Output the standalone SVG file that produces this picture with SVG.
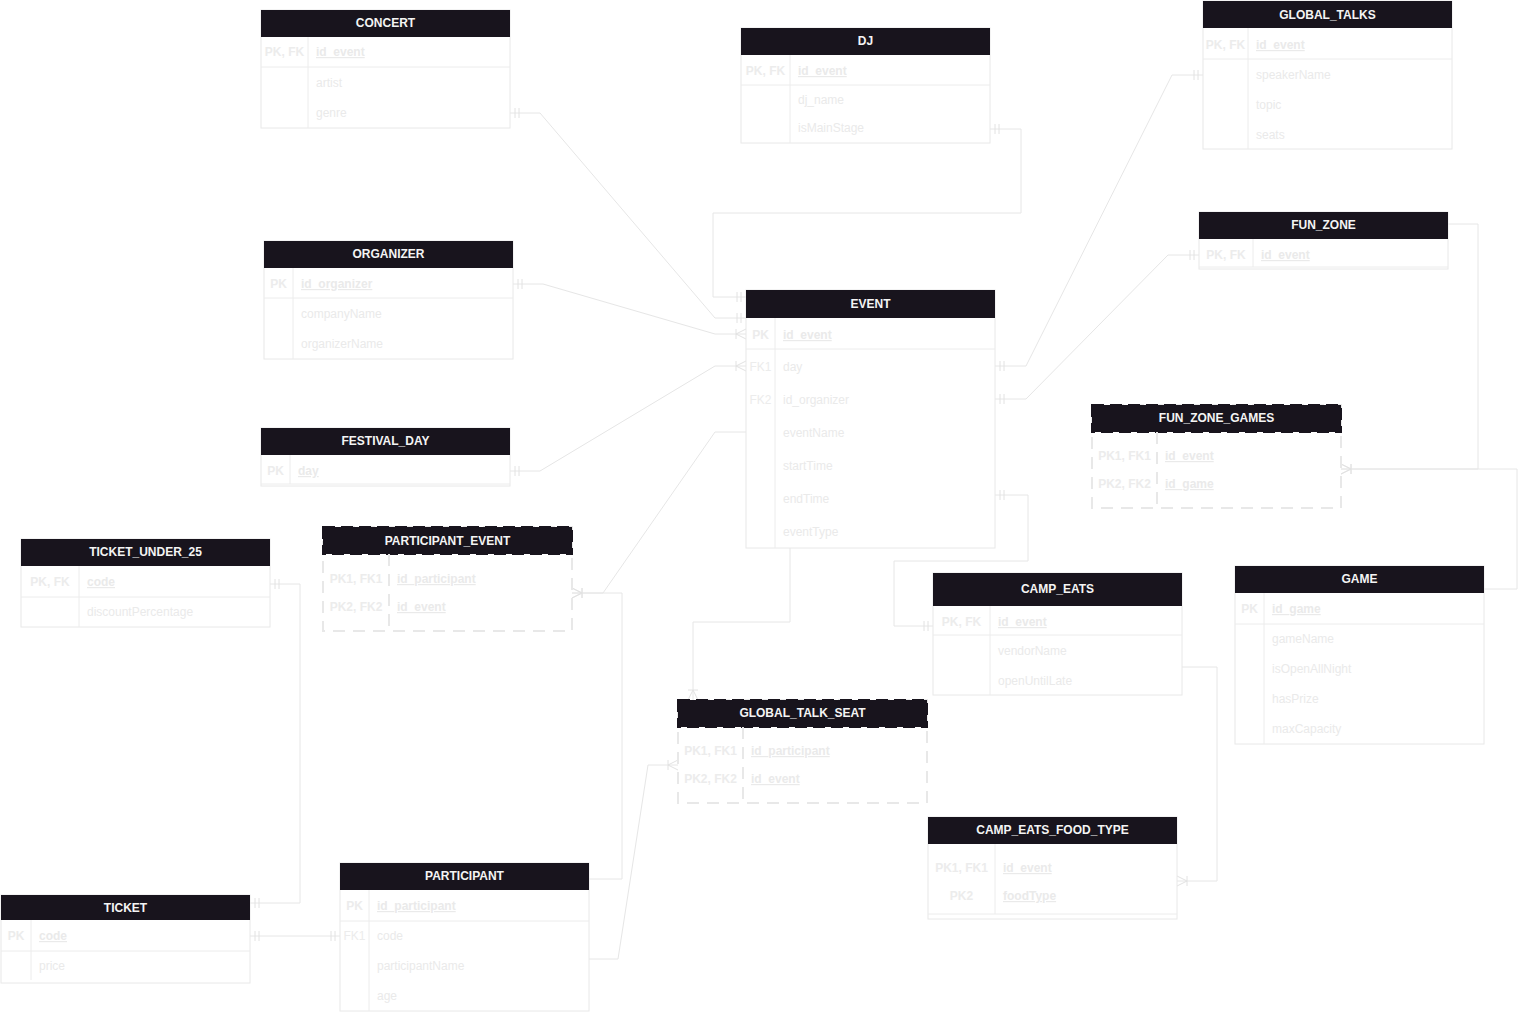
<svg xmlns="http://www.w3.org/2000/svg" width="1526" height="1012" viewBox="0 0 1526 1012">
<style>
  .hd{fill:#18141d}
  .hdd{fill:#18141d;stroke:#18141d;stroke-width:2;stroke-dasharray:12 6}
  .ht{font:bold 12px "Liberation Sans",Arial,sans-serif;fill:#f4f4f4;text-anchor:middle}
  .bx{fill:#fff;stroke:#e8e8e8;stroke-width:1}
  .bxd{fill:#fff;stroke:#e8e8e8;stroke-width:2;stroke-dasharray:12 8}
  .ln{stroke:#ececec;stroke-width:1;fill:none}
  .lnd{stroke:#e8e8e8;stroke-width:2;stroke-dasharray:12 8;fill:none}
  .k{font:bold 12px "Liberation Sans",Arial,sans-serif;fill:#ececec;text-anchor:middle}
  .kr{font:12px "Liberation Sans",Arial,sans-serif;fill:#ececec;text-anchor:middle}
  .f{font:12px "Liberation Sans",Arial,sans-serif;fill:#eaeaea}
  .pk{font-weight:bold;text-decoration:underline}
  .edge{fill:none;stroke:#e6e6e6;stroke-width:1}
</style>
<defs>
  <!-- mandatory one: two bars -->
  <marker id="one" markerUnits="userSpaceOnUse" viewBox="-14 -7 14 14" markerWidth="14" markerHeight="14" refX="0" refY="0" orient="auto-start-reverse" overflow="visible">
    <path d="M-5,-5V5M-9,-5V5" fill="none" stroke="#e2e2e2" stroke-width="1"/>
  </marker>
  <!-- one to many: bar plus crow's foot -->
  <marker id="many" markerUnits="userSpaceOnUse" viewBox="-14 -7 14 14" markerWidth="14" markerHeight="14" refX="0" refY="0" orient="auto-start-reverse" overflow="visible">
    <path d="M0,-5L-10,0L0,5M-10,-5V5" fill="none" stroke="#e2e2e2" stroke-width="1"/>
  </marker>
</defs>
<rect width="1526" height="1012" fill="#fff"/>

<g id="connectors">
  <path class="edge" d="M510,113H540L715,318H746" marker-start="url(#one)" marker-end="url(#one)"/>
  <path class="edge" d="M990,129H1021V213H713V297H746" marker-start="url(#one)" marker-end="url(#one)"/>
  <path class="edge" d="M513,284H543L715,334H746" marker-start="url(#one)" marker-end="url(#many)"/>
  <path class="edge" d="M510,471H540L715,366H746" marker-start="url(#one)" marker-end="url(#many)"/>
  <path class="edge" d="M995,366H1026L1172,75H1203" marker-start="url(#one)" marker-end="url(#one)"/>
  <path class="edge" d="M995,399H1026L1168,255H1199" marker-start="url(#one)" marker-end="url(#one)"/>
  <path class="edge" d="M995,495H1028V561H894V626H933" marker-start="url(#one)" marker-end="url(#one)"/>
  <path class="edge" d="M1448,224H1478V469H1341" marker-end="url(#many)"/>
  <path class="edge" d="M1484,589H1517V469H1341" marker-end="url(#many)"/>
  <path class="edge" d="M790,548V622H693V700" marker-end="url(#many)"/>
  <path class="edge" d="M746,432H715L603,593H572" marker-end="url(#many)"/>
  <path class="edge" d="M589,879H622V593H572" marker-end="url(#many)"/>
  <path class="edge" d="M589,959H618L648,765H678" marker-end="url(#many)"/>
  <path class="edge" d="M1182,667H1217V881H1177" marker-end="url(#many)"/>
  <path class="edge" d="M270,584H300V903H250" marker-start="url(#one)" marker-end="url(#one)"/>
  <path class="edge" d="M250,936H340" marker-start="url(#one)" marker-end="url(#one)"/>
</g>

<g id="CONCERT">
  <rect class="bx" x="261" y="10" width="249" height="118"/>
  <rect class="hd" x="261" y="10" width="249" height="27"/>
  <text class="ht" x="385.5" y="27">CONCERT</text>
  <path class="ln" d="M308,37V128M261,67H510"/>
  <text class="k" x="284.5" y="56">PK, FK</text>
  <text class="f pk" x="316" y="56">id_event</text>
  <text class="f" x="316" y="87">artist</text>
  <text class="f" x="316" y="117">genre</text>
</g>

<g id="DJ">
  <rect class="bx" x="741" y="28" width="249" height="115"/>
  <rect class="hd" x="741" y="28" width="249" height="27"/>
  <text class="ht" x="865.5" y="45">DJ</text>
  <path class="ln" d="M790,55V143M741,85H990"/>
  <text class="k" x="765.5" y="75">PK, FK</text>
  <text class="f pk" x="798" y="75">id_event</text>
  <text class="f" x="798" y="104">dj_name</text>
  <text class="f" x="798" y="132">isMainStage</text>
</g>

<g id="GLOBAL_TALKS">
  <rect class="bx" x="1203" y="1" width="249" height="148"/>
  <rect class="hd" x="1203" y="1" width="249" height="27"/>
  <text class="ht" x="1327.5" y="19">GLOBAL_TALKS</text>
  <path class="ln" d="M1248,28V149M1203,59H1452"/>
  <text class="k" x="1225.5" y="49">PK, FK</text>
  <text class="f pk" x="1256" y="49">id_event</text>
  <text class="f" x="1256" y="79">speakerName</text>
  <text class="f" x="1256" y="109">topic</text>
  <text class="f" x="1256" y="139">seats</text>
</g>

<g id="FUN_ZONE">
  <rect class="bx" x="1199" y="212" width="249" height="57"/>
  <rect class="hd" x="1199" y="212" width="249" height="27"/>
  <text class="ht" x="1323.5" y="229">FUN_ZONE</text>
  <path class="ln" d="M1253,239V267M1199,267H1448"/>
  <text class="k" x="1226" y="259">PK, FK</text>
  <text class="f pk" x="1261" y="259">id_event</text>
</g>

<g id="ORGANIZER">
  <rect class="bx" x="264" y="241" width="249" height="118"/>
  <rect class="hd" x="264" y="241" width="249" height="27"/>
  <text class="ht" x="388.5" y="258">ORGANIZER</text>
  <path class="ln" d="M293,268V359M264,298H513"/>
  <text class="k" x="278.5" y="288">PK</text>
  <text class="f pk" x="301" y="288">id_organizer</text>
  <text class="f" x="301" y="318">companyName</text>
  <text class="f" x="301" y="348">organizerName</text>
</g>

<g id="FESTIVAL_DAY">
  <rect class="bx" x="261" y="428" width="249" height="58"/>
  <rect class="hd" x="261" y="428" width="249" height="27"/>
  <text class="ht" x="385.5" y="445">FESTIVAL_DAY</text>
  <path class="ln" d="M290,455V484M261,484H510"/>
  <text class="k" x="275.5" y="475">PK</text>
  <text class="f pk" x="298" y="475">day</text>
</g>

<g id="EVENT">
  <rect class="bx" x="746" y="290" width="249" height="258"/>
  <rect class="hd" x="746" y="290" width="249" height="28"/>
  <text class="ht" x="870.5" y="308">EVENT</text>
  <path class="ln" d="M775,318V548M746,349H995"/>
  <text class="k" x="760.5" y="339">PK</text>
  <text class="f pk" x="783" y="339">id_event</text>
  <text class="kr" x="760.5" y="371">FK1</text>
  <text class="f" x="783" y="371">day</text>
  <text class="kr" x="760.5" y="404">FK2</text>
  <text class="f" x="783" y="404">id_organizer</text>
  <text class="f" x="783" y="437">eventName</text>
  <text class="f" x="783" y="470">startTime</text>
  <text class="f" x="783" y="503">endTime</text>
  <text class="f" x="783" y="536">eventType</text>
</g>

<g id="FUN_ZONE_GAMES">
  <rect class="bxd" x="1092" y="405" width="249" height="103"/>
  <rect class="hdd" x="1092" y="405" width="249" height="27"/>
  <text class="ht" x="1216.5" y="422">FUN_ZONE_GAMES</text>
  <path class="lnd" d="M1157,432V508"/>
  <text class="k" x="1124.5" y="460">PK1, FK1</text>
  <text class="f pk" x="1165" y="460">id_event</text>
  <text class="k" x="1124.5" y="488">PK2, FK2</text>
  <text class="f pk" x="1165" y="488">id_game</text>
</g>

<g id="TICKET_UNDER_25">
  <rect class="bx" x="21" y="539" width="249" height="88"/>
  <rect class="hd" x="21" y="539" width="249" height="27"/>
  <text class="ht" x="145.5" y="556">TICKET_UNDER_25</text>
  <path class="ln" d="M79,566V627M21,597H270"/>
  <text class="k" x="50" y="586">PK, FK</text>
  <text class="f pk" x="87" y="586">code</text>
  <text class="f" x="87" y="616">discountPercentage</text>
</g>

<g id="PARTICIPANT_EVENT">
  <rect class="bxd" x="323" y="527" width="249" height="104"/>
  <rect class="hdd" x="323" y="527" width="249" height="27"/>
  <text class="ht" x="447.5" y="545">PARTICIPANT_EVENT</text>
  <path class="lnd" d="M389,554V631"/>
  <text class="k" x="356" y="583">PK1, FK1</text>
  <text class="f pk" x="397" y="583">id_participant</text>
  <text class="k" x="356" y="611">PK2, FK2</text>
  <text class="f pk" x="397" y="611">id_event</text>
</g>

<g id="GAME">
  <rect class="bx" x="1235" y="566" width="249" height="178"/>
  <rect class="hd" x="1235" y="566" width="249" height="27"/>
  <text class="ht" x="1359.5" y="583">GAME</text>
  <path class="ln" d="M1264,593V744M1235,624H1484"/>
  <text class="k" x="1249.5" y="613">PK</text>
  <text class="f pk" x="1272" y="613">id_game</text>
  <text class="f" x="1272" y="643">gameName</text>
  <text class="f" x="1272" y="673">isOpenAllNight</text>
  <text class="f" x="1272" y="703">hasPrize</text>
  <text class="f" x="1272" y="733">maxCapacity</text>
</g>

<g id="CAMP_EATS">
  <rect class="bx" x="933" y="573" width="249" height="122"/>
  <rect class="hd" x="933" y="573" width="249" height="33"/>
  <text class="ht" x="1057.5" y="593">CAMP_EATS</text>
  <path class="ln" d="M990,606V695M933,635H1182"/>
  <text class="k" x="961.5" y="626">PK, FK</text>
  <text class="f pk" x="998" y="626">id_event</text>
  <text class="f" x="998" y="655">vendorName</text>
  <text class="f" x="998" y="685">openUntilLate</text>
</g>

<g id="GLOBAL_TALK_SEAT">
  <rect class="bxd" x="678" y="700" width="249" height="103"/>
  <rect class="hdd" x="678" y="700" width="249" height="27"/>
  <text class="ht" x="802.5" y="717">GLOBAL_TALK_SEAT</text>
  <path class="lnd" d="M743,727V803"/>
  <text class="k" x="710.5" y="755">PK1, FK1</text>
  <text class="f pk" x="751" y="755">id_participant</text>
  <text class="k" x="710.5" y="783">PK2, FK2</text>
  <text class="f pk" x="751" y="783">id_event</text>
</g>

<g id="CAMP_EATS_FOOD_TYPE">
  <rect class="bx" x="928" y="817" width="249" height="102"/>
  <rect class="hd" x="928" y="817" width="249" height="27"/>
  <text class="ht" x="1052.5" y="834">CAMP_EATS_FOOD_TYPE</text>
  <path class="ln" d="M995,844V914M928,914H1177"/>
  <text class="k" x="961.5" y="872">PK1, FK1</text>
  <text class="f pk" x="1003" y="872">id_event</text>
  <text class="k" x="961.5" y="900">PK2</text>
  <text class="f pk" x="1003" y="900">foodType</text>
</g>

<g id="PARTICIPANT">
  <rect class="bx" x="340" y="863" width="249" height="148"/>
  <rect class="hd" x="340" y="863" width="249" height="27"/>
  <text class="ht" x="464.5" y="880">PARTICIPANT</text>
  <path class="ln" d="M369,890V1011M340,921H589"/>
  <text class="k" x="354.5" y="910">PK</text>
  <text class="f pk" x="377" y="910">id_participant</text>
  <text class="kr" x="354.5" y="940">FK1</text>
  <text class="f" x="377" y="940">code</text>
  <text class="f" x="377" y="970">participantName</text>
  <text class="f" x="377" y="1000">age</text>
</g>

<g id="TICKET">
  <rect class="bx" x="1" y="895" width="249" height="88"/>
  <rect class="hd" x="1" y="895" width="249" height="25"/>
  <text class="ht" x="125.5" y="912">TICKET</text>
  <path class="ln" d="M31,920V980M1,951H250"/>
  <text class="k" x="16" y="940">PK</text>
  <text class="f pk" x="39" y="940">code</text>
  <text class="f" x="39" y="970">price</text>
</g>
</svg>
